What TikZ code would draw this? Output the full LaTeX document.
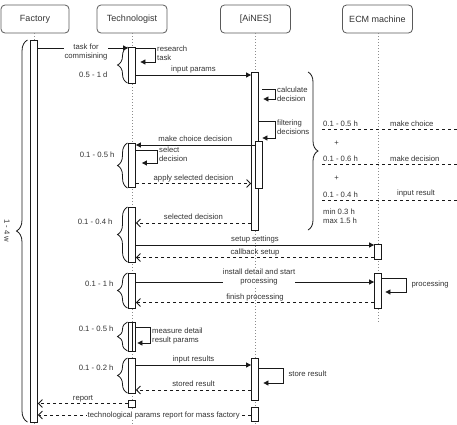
\documentclass[tikz,border=0pt]{standalone}
\usepackage{fontspec}
\setmainfont{Liberation Sans}
\usetikzlibrary{arrows.meta,decorations.pathreplacing}
\definecolor{textc}{RGB}{51,51,51}
\definecolor{linec}{RGB}{25,25,25}
\definecolor{boxc}{RGB}{90,90,90}
\definecolor{lifec}{RGB}{140,140,140}
\newcommand\lblfont{\fontsize{7.7pt}{9pt}\selectfont}
\newcommand\hdrfont{\fontsize{9pt}{11pt}\selectfont}
\begin{document}
\begin{tikzpicture}[x=1pt,y=-1pt,
  every node/.style={text=textc, font=\lblfont},
  hdr/.style={draw=boxc, line width=0.8pt, rounded corners=4pt, minimum width=70pt, minimum height=28pt, font=\hdrfont, inner sep=0pt},
  life/.style={draw=lifec, line width=1pt, dash pattern=on 1pt off 2pt},
  act/.style={draw=linec, fill=white, line width=0.8pt, minimum width=7pt, inner sep=0pt},
  msg/.style={draw=linec, line width=0.8pt, -{Triangle[length=5pt,width=5pt]}},
  ret/.style={draw=linec, line width=0.8pt, dash pattern=on 3pt off 3pt, -{Straight Barb[length=4pt,width=8pt]}},
  lab/.style={above, inner sep=1.5pt, text height=5.6pt, text depth=1.6pt},
  ml/.style={align=left, inner sep=0pt},
  brc/.style={draw=linec, line width=0.8pt, decorate, decoration={brace, amplitude=#1}},
  note/.style={anchor=west, inner sep=0pt},
  sepl/.style={draw=linec, line width=0.8pt, dash pattern=on 3pt off 3pt},
]
\useasboundingbox (0,0) rectangle (457,424);

% headers
\node[hdr, minimum width=68pt] (hF) at (35,19) {Factory};
\node[hdr] (hT) at (132,19) {Technologist};
\node[hdr] (hA) at (255.5,19) {[AiNES]};
\node[hdr] (hE) at (377.5,19) {ECM machine};

% lifelines
\coordinate (lF) at (34,424);
\coordinate (lT) at (132,424);
\coordinate (lA) at (255,424);
\coordinate (lE) at (378,322);
\draw[life] (hF.south -| lF) -- (lF);
\draw[life] (hT.south -| lT) -- (lT);
\draw[life] (hA.south -| lA) -- (lA);
\draw[life] (hE.south -| lE) -- (lE);

% activations
\node[act, minimum height=382pt] (f1) at (34,231) {};
\node[act, minimum height=36pt] (t1) at (132,65) {};
\node[act, minimum height=158pt] (a1) at (255,151) {};
\node[act, minimum height=47pt] (a1n) at (258.5,164.5) {};
\node[act, minimum height=44pt] (t2) at (132,165) {};
\node[act, minimum height=55pt] (t3) at (132,234.5) {};
\node[act, minimum height=15pt] (e1) at (378,251.5) {};
\node[act, minimum height=35pt] (t4) at (132,290.5) {};
\node[act, minimum height=35pt] (e2) at (378,290.5) {};
\node[act, minimum height=29pt] (t5) at (132,336.5) {};
\node[act, minimum height=29pt, minimum width=3.5pt] (t5n) at (133.75,336.5) {};
\node[act, minimum height=35pt] (t6) at (132,375.5) {};
\node[act, minimum height=42pt] (a3) at (255,379) {};
\node[act, minimum height=7pt] (t7) at (132,403.5) {};
\node[act, minimum height=14pt] (a4) at (255,414) {};

% factory brace
\draw[brc=11] (27.5,422) -- (27.5,40);
\node[rotate=-90] (wk) at (7,231) {1 - 4 w};

% task for commisining
\draw[msg] (f1.east |- 0,48) -- (t1.west |- 0,48);
\node[fill=white, align=center, inner sep=1pt] (m1) at (86,52) {task for\\commisining};
\draw[msg, shorten >=4.5pt] (t1.east |- 0,48) -- (155,48) -- (155,62) -- (t1.east |- 0,62);
\node[ml, anchor=west] (s1) at (157,53) {research\\task};
\draw[brc=10] (127.5,83) -- (127.5,47);
\node[anchor=east] (b1) at (111,75) {0.5 - 1 d};
\draw[msg] (t1.east |- 0,75) -- (a1.west |- 0,75) node[midway, lab] {input params};

% AiNES self calls
\draw[msg, shorten <=3.5pt, shorten >=4.5pt] (a1.east |- 0,89) -- (275,89) -- (275,99) -- (a1.east |- 0,99);
\node[ml, anchor=west] (s2) at (277,94) {calculate\\decision};
\draw[msg] (a1.east |- 0,121) -- (275,121) -- (275,138) -- (a1n.east |- 0,138);
\node[ml, anchor=west] (s3) at (277,127.5) {filtering\\decisions};
\draw[brc=10] (308,72) -- (308,230);

% right notes
\node[note] (n1) at (323,124) {0.1 - 0.5 h};
\node[note] (n1b) at (390,124) {make choice};
\draw[sepl] (322,129.5) -- (457,129.5);
\node (p1) at (336.5,143) {+};
\node[note] (n2) at (323,159) {0.1 - 0.6 h};
\node[note] (n2b) at (390,159) {make decision};
\draw[sepl] (322,164.5) -- (457,164.5);
\node (p2) at (336.5,178) {+};
\node[note] (n3) at (323,195) {0.1 - 0.4 h};
\node[note] (n3b) at (397,194) {input result};
\draw[sepl] (322,200.5) -- (457,200.5);
\node[note, align=left] (n4) at (323,216) {min 0.3 h\\max 1.5 h};

% make choice decision
\draw[msg] (a1n.west |- 0,145) -- (t2.east |- 0,145) node[midway, lab] {make choice decision};
\draw[msg, shorten >=6pt] (t2.east |- 0,150) -- (157,150) -- (157,163) -- (t2.east |- 0,163);
\node[ml, anchor=west] (s4) at (159,154) {select\\decision};
\draw[brc=10] (127.5,188) -- (127.5,143);
\node[anchor=east] (b2) at (118,155) {0.1 - 0.5 h};
\draw[ret] (t2.east |- 0,183.5) -- (a1.west |- 0,183.5) node[midway, lab] {apply selected decision};

% selected decision
\draw[ret] (a1.west |- 0,223) -- (t3.east |- 0,223) node[midway, lab] {selected decision};
\draw[brc=10] (127.5,262) -- (127.5,207);
\node[anchor=east] (b3) at (116,222) {0.1 - 0.4 h};
\draw[msg] (t3.east |- 0,245) -- (e1.west |- 0,245) node[midway, lab] {setup settings};
\draw[ret] (e1.west |- 0,257.5) -- (t3.east |- 0,257.5) node[midway, lab] {callback setup};

% processing
\draw[msg] (t4.east |- 0,282) -- (e2.west |- 0,282);
\node[fill=white, align=center, inner sep=0pt] (m2) at (259,277.5) {install detail and start\\processing};
\draw[msg, shorten >=3.5pt] (e2.east |- 0,278) -- (406,278) -- (406,292) -- (e2.east |- 0,292);
\node[anchor=west] (s5) at (408,285) {processing};
\draw[ret] (e2.west |- 0,302.5) -- (t4.east |- 0,302.5) node[midway, lab] {finish processing};
\draw[brc=10] (127.5,308) -- (127.5,273);
\node[anchor=east] (b4) at (117,284) {0.1 - 1 h};

% measure
\draw[msg, shorten >=1.5pt] (t5n.east |- 0,327) -- (150,327) -- (150,343) -- (t5n.east |- 0,343);
\node[ml, anchor=west] (s6) at (152,335.5) {measure detail\\result params};
\draw[brc=10] (127.5,351) -- (127.5,322);
\node[anchor=east] (b5) at (117,329) {0.1 - 0.5 h};

% input results
\draw[msg] (t6.east |- 0,365) -- (a3.west |- 0,365) node[midway, lab] {input results};
\draw[msg, shorten >=4.5pt] (a3.east |- 0,368) -- (283,368) -- (283,383) -- (a3.east |- 0,383);
\node[anchor=west] (s7) at (285,374) {store result};
\draw[ret] (a3.west |- 0,390) -- (t6.east |- 0,390) node[midway, lab] {stored result};
\draw[brc=10] (127.5,393) -- (127.5,358);
\node[anchor=east] (b6) at (117,368) {0.1 - 0.2 h};

% reports
\draw[ret] (t7.west |- 0,403.5) -- (f1.east |- 0,403.5) node[midway, lab] {report};
\draw[ret] (a4.west |- 0,415) -- (f1.east |- 0,415) node[pos=0.41, fill=white, inner sep=1pt] {technological params report for mass factory};
\end{tikzpicture}
\end{document}
